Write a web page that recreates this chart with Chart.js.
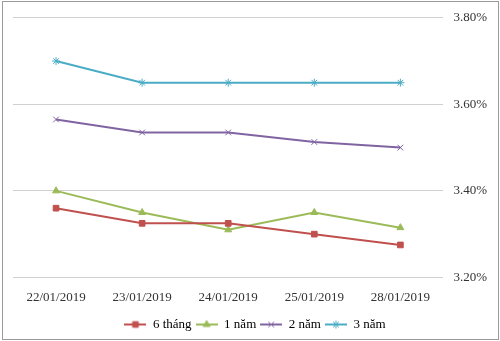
<!DOCTYPE html>
<html>
<head>
<meta charset="utf-8">
<script src="https://cdn.jsdelivr.net/npm/chart.js@4/dist/chart.umd.min.js"></script>
<style>
  html, body { margin: 0; padding: 0; background: #fff; }
  #wrap { position: absolute; left: 2px; top: 1px; width: 495px; height: 337px; border: 1px solid #9a9a9a; }
  #box { position: absolute; left: 0; top: 0; width: 500px; height: 341px; }
</style>
</head>
<body>
<div id="wrap"></div>
<div id="box"><canvas id="chart"></canvas></div>
<script>
const dates = ['22/01/2019', '23/01/2019', '24/01/2019', '25/01/2019', '28/01/2019'];
const sixMonths = [3.36, 3.325, 3.325, 3.30, 3.275];
const oneYear = [3.40, 3.35, 3.31, 3.35, 3.315];
const twoYears = [3.565, 3.535, 3.535, 3.513, 3.50];
const threeYears = [3.70, 3.65, 3.65, 3.65, 3.65];
const yTicks = [3.2, 3.4, 3.6, 3.8];

Chart.defaults.font.family = '"Liberation Serif", "Times New Roman", serif';
Chart.defaults.font.size = 13;
Chart.defaults.color = '#333';

function series(label, data, color, style, radius) {
    return {
        label: label,
        data: data,
        borderColor: color,
        backgroundColor: color,
        borderWidth: 2,
        pointStyle: style,
        pointRadius: radius,
        pointBorderWidth: 1,
        tension: 0
    };
}

// small line + marker picture for the legend
function legendIcon(ds) {
    const c = document.createElement('canvas');
    c.width = 22;
    c.height = 10;
    const g = c.getContext('2d');
    g.strokeStyle = ds.borderColor;
    g.lineWidth = 2;
    g.beginPath();
    g.moveTo(0, 5);
    g.lineTo(22, 5);
    g.stroke();
    g.fillStyle = ds.backgroundColor;
    g.lineWidth = 1;
    Chart.helpers.drawPoint(g, { pointStyle: ds.pointStyle, radius: 4, borderWidth: 1, rotation: 0 }, 11, 5);
    return c;
}

const ctx = document.getElementById('chart').getContext('2d');
const chart = new Chart(ctx, {
    type: 'line',
    data: {
        labels: dates,
        datasets: [
            series('6 tháng', sixMonths, '#C0504D', 'rect', 4),
            series('1 năm', oneYear, '#9BBB59', 'triangle', 4),
            series('2 năm', twoYears, '#8064A2', 'crossRot', 4),
            series('3 năm', threeYears, '#4BACC6', 'star', 4)
        ]
    },
    options: {
        responsive: true,
        maintainAspectRatio: false,
        animation: false,
        layout: { padding: { left: 13, right: 3, top: 1, bottom: 0 } },
        plugins: {
            legend: {
                position: 'bottom',
                labels: {
                    usePointStyle: true,
                    pointStyleWidth: 22,
                    boxHeight: 10,
                    padding: 4,
                    color: '#333',
                    generateLabels: function(chart) {
                        return chart.data.datasets.map(function(ds, i) {
                            return {
                                text: ds.label,
                                fillStyle: ds.backgroundColor,
                                strokeStyle: ds.borderColor,
                                lineWidth: 0,
                                pointStyle: legendIcon(ds),
                                datasetIndex: i
                            };
                        });
                    }
                }
            },
            tooltip: { enabled: false }
        },
        scales: {
            x: {
                offset: true,
                grid: { display: false },
                border: { display: false },
                ticks: { padding: 4, maxRotation: 0 },
                afterFit: function(axis) { axis.height += 5; }
            },
            y: {
                position: 'right',
                min: 3.2,
                max: 3.8,
                afterBuildTicks: function(axis) {
                    axis.ticks = yTicks.map(function(v) { return { value: v }; });
                },
                grid: { color: '#d0d0d0', lineWidth: 1, drawTicks: false },
                border: { display: false },
                ticks: {
                    padding: 10,
                    callback: function(v) { return v.toFixed(2) + '%'; }
                }
            }
        }
    }
});
</script>
</body>
</html>
